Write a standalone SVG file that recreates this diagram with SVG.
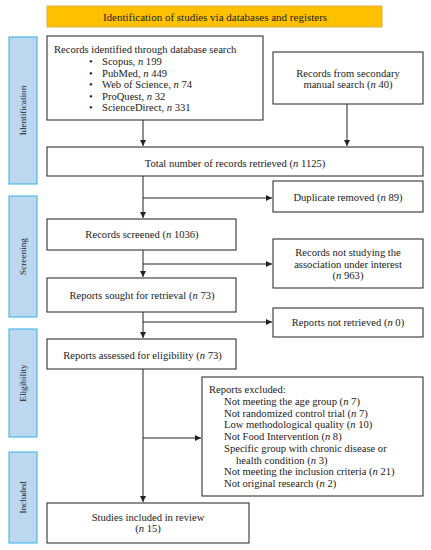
<svg xmlns="http://www.w3.org/2000/svg" width="431" height="550" viewBox="0 0 431 550">
<defs>
<style>
text{font-family:"Liberation Serif","Times New Roman",serif;font-size:10.6px;fill:#222}
.c{text-anchor:middle}
.i{font-style:italic}
.box{fill:#fff;stroke:#333;stroke-width:1.1}
.side{fill:#bdd7ee;stroke:#41b6e6;stroke-width:1.1}
.side-t{font-size:9.2px;text-anchor:middle}
.ln{fill:none;stroke:#222;stroke-width:1}
</style>
<marker id="ah" markerWidth="8" markerHeight="8" refX="6" refY="3" orient="auto" markerUnits="userSpaceOnUse">
<path d="M0,0 L6,3 L0,6 Z" fill="#222"/>
</marker>
</defs>
<rect width="431" height="550" fill="#fff"/>

<g id="banner">
<rect x="47" y="6" width="335" height="21" fill="#ffc000" stroke="#e0b040" stroke-width="1"/>
<text class="c" x="215" y="20.5" style="font-size:11px">Identification of studies via databases and registers</text>
</g>

<g id="side-identification">
<rect class="side" x="9" y="37" width="28" height="147"/>
<text class="side-t" transform="translate(26,110.5) rotate(-90)">Identification</text>
</g>
<g id="side-screening">
<rect class="side" x="9" y="196" width="28" height="121"/>
<text class="side-t" transform="translate(26,256.5) rotate(-90)">Screening</text>
</g>
<g id="side-eligibility">
<rect class="side" x="9" y="329" width="28" height="108"/>
<text class="side-t" transform="translate(26,383) rotate(-90)">Eligibility</text>
</g>
<g id="side-included">
<rect class="side" x="9" y="452" width="28" height="91"/>
<text class="side-t" transform="translate(26,497.5) rotate(-90)">Included</text>
</g>

<g id="connectors">
<line class="ln" x1="143" y1="120" x2="143" y2="146" marker-end="url(#ah)"/>
<line class="ln" x1="347" y1="104" x2="347" y2="146" marker-end="url(#ah)"/>
<line class="ln" x1="143" y1="176" x2="143" y2="218" marker-end="url(#ah)"/>
<line class="ln" x1="143" y1="198" x2="272" y2="198" marker-end="url(#ah)"/>
<line class="ln" x1="143" y1="250" x2="143" y2="277" marker-end="url(#ah)"/>
<line class="ln" x1="143" y1="264" x2="272" y2="264" marker-end="url(#ah)"/>
<line class="ln" x1="143" y1="312" x2="143" y2="338" marker-end="url(#ah)"/>
<line class="ln" x1="143" y1="322" x2="272" y2="322" marker-end="url(#ah)"/>
<line class="ln" x1="143" y1="369" x2="143" y2="502" marker-end="url(#ah)"/>
<line class="ln" x1="143" y1="438" x2="201" y2="438" marker-end="url(#ah)"/>
</g>

<g id="records-identified">
<rect class="box" x="47" y="36" width="216" height="84"/>
<text x="54" y="52.5">Records identified through database search</text>
<text x="89" y="65">•</text><text x="102" y="65">Scopus, <tspan class="i">n</tspan> 199</text>
<text x="89" y="76.5">•</text><text x="102" y="76.5">PubMed, <tspan class="i">n</tspan> 449</text>
<text x="89" y="88">•</text><text x="102" y="88">Web of Science, <tspan class="i">n</tspan> 74</text>
<text x="89" y="99.5">•</text><text x="102" y="99.5">ProQuest, <tspan class="i">n</tspan> 32</text>
<text x="89" y="111">•</text><text x="102" y="111">ScienceDirect, <tspan class="i">n</tspan> 331</text>
</g>

<g id="secondary-search">
<rect class="box" x="273" y="52" width="150" height="52"/>
<text class="c" x="348" y="76.5">Records from secondary</text>
<text class="c" x="348" y="88">manual search (<tspan class="i">n</tspan> 40)</text>
</g>

<g id="total-records">
<rect class="box" x="47" y="147" width="376" height="29"/>
<text class="c" x="235" y="166.5">Total number of records retrieved (<tspan class="i">n</tspan> 1125)</text>
</g>

<g id="duplicates">
<rect class="box" x="273" y="181" width="150" height="31"/>
<text class="c" x="348" y="200.5">Duplicate removed (<tspan class="i">n</tspan> 89)</text>
</g>

<g id="records-screened">
<rect class="box" x="47" y="219" width="189" height="31"/>
<text class="c" x="142" y="238">Records screened (<tspan class="i">n</tspan> 1036)</text>
</g>

<g id="not-studying">
<rect class="box" x="273" y="239" width="150" height="49"/>
<text class="c" x="348" y="255.5">Records not studying the</text>
<text class="c" x="348" y="267.5">association under interest</text>
<text class="c" x="348" y="279">(<tspan class="i">n</tspan> 963)</text>
</g>

<g id="reports-sought">
<rect class="box" x="47" y="278" width="189" height="34"/>
<text class="c" x="142" y="298.5">Reports sought for retrieval (<tspan class="i">n</tspan> 73)</text>
</g>

<g id="not-retrieved">
<rect class="box" x="273" y="308" width="150" height="29"/>
<text class="c" x="348" y="325.5">Reports not retrieved (<tspan class="i">n</tspan> 0)</text>
</g>

<g id="reports-assessed">
<rect class="box" x="47" y="339" width="189" height="30"/>
<text class="c" x="142.5" y="358.5">Reports assessed for eligibility (<tspan class="i">n</tspan> 73)</text>
</g>

<g id="reports-excluded">
<rect class="box" x="202" y="377" width="221" height="119"/>
<text x="209" y="392.5">Reports excluded:</text>
<text x="224" y="404.5">Not meeting the age group (<tspan class="i">n</tspan> 7)</text>
<text x="224" y="416.5">Not randomized control trial (<tspan class="i">n</tspan> 7)</text>
<text x="224" y="428">Low methodological quality (<tspan class="i">n</tspan> 10)</text>
<text x="224" y="439.5">Not Food Intervention (<tspan class="i">n</tspan> 8)</text>
<text x="224" y="451.5">Specific group with chronic disease or</text>
<text x="236" y="463.5">health condition (<tspan class="i">n</tspan> 3)</text>
<text x="224" y="475">Not meeting the inclusion criteria (<tspan class="i">n</tspan> 21)</text>
<text x="224" y="486.5">Not original research (<tspan class="i">n</tspan> 2)</text>
</g>

<g id="studies-included">
<rect class="box" x="47" y="503" width="202" height="40"/>
<text class="c" x="148" y="520.5">Studies included in review</text>
<text class="c" x="148" y="532">(<tspan class="i">n</tspan> 15)</text>
</g>
</svg>
